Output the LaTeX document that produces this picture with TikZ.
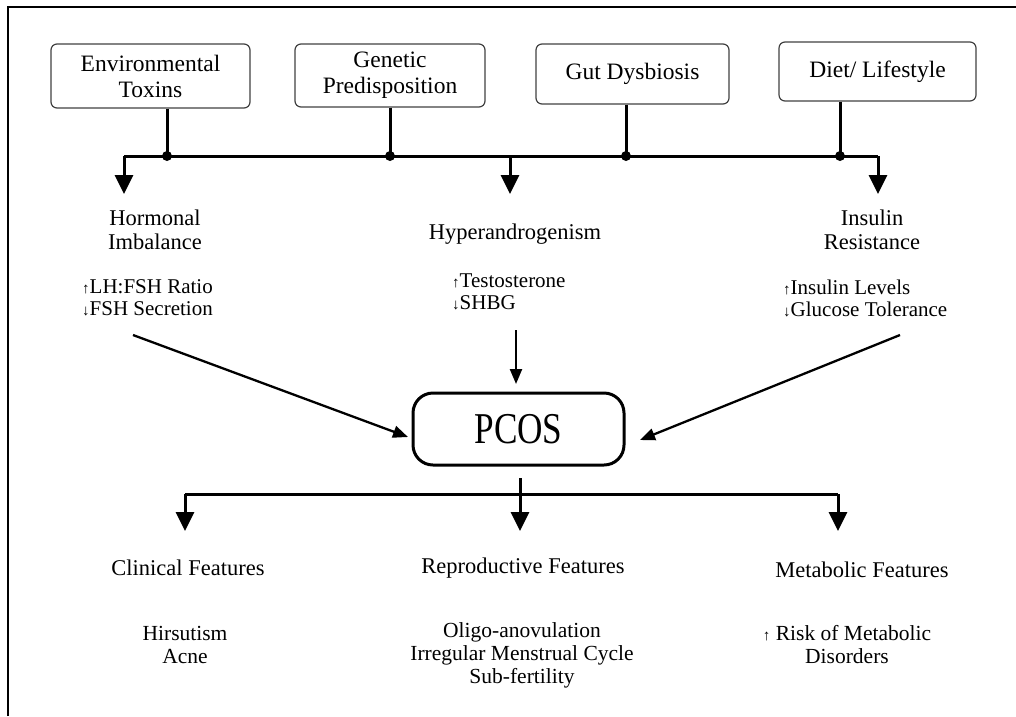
\documentclass[tikz,border=0pt]{standalone}
\usepackage{fontspec}
\setmainfont{Liberation Serif}
\usetikzlibrary{arrows.meta}
\begin{document}
\begin{tikzpicture}[x=1pt,y=-1pt,
  cause/.style={draw=black!75, line width=1.2pt, rounded corners=6pt, align=center, inner sep=0pt,
    font=\fontsize{23.5}{26}\selectfont},
  lbl/.style={align=center, inner sep=0pt, font=\fontsize{22.5}{24}\selectfont},
  lst/.style={align=left, inner sep=0pt, font=\fontsize{21}{22}\selectfont},
  blst/.style={align=center, inner sep=0pt, font=\fontsize{21.5}{23}\selectfont},
  wire/.style={line width=3pt},
  bigarrow/.style={line width=3pt, -{Triangle[width=18pt,length=19pt]}},
  thinarrow/.style={line width=2.3pt, -{Triangle[width=12pt,length=15pt]}},
  dot/.style={circle, fill=black, inner sep=0pt, minimum size=10pt}
]
\useasboundingbox (0,0) rectangle (1016,716);
\draw[line width=2pt] (8,716) -- (8,7) -- (1016,7);

% causes
\node[cause, minimum width=199pt, minimum height=64pt] (env) at (150.5,76) {Environmental\\Toxins};
\node[cause, minimum width=190pt, minimum height=63pt] (gen) at (390,75.5) {Genetic\\Predisposition};
\node[cause, minimum width=193pt, minimum height=60pt] (gut) at (632.5,74) {Gut Dysbiosis};
\node[cause, minimum width=197pt, minimum height=59pt] (diet) at (877.5,71.5) {Diet/ Lifestyle};

% junctions on bus
\node[dot] (j1) at (167,156) {};
\node[dot] (j2) at (390,156) {};
\node[dot] (j3) at (626,156) {};
\node[dot] (j4) at (840,156) {};
\coordinate (bl) at (124,156);
\coordinate (bm) at (510,156);
\coordinate (br) at (878,156);
\coordinate (tl) at (124,194);
\coordinate (tm) at (510,194);
\coordinate (tr) at (878,194);

\draw[wire] (env.south -| j1) -- (j1.center);
\draw[wire] (gen.south -| j2) -- (j2.center);
\draw[wire] (gut.south -| j3) -- (j3.center);
\draw[wire] (diet.south -| j4) -- (j4.center);
\draw[wire] (bl) -- (br);
\draw[bigarrow] (bl) -- (tl);
\draw[bigarrow] (bm) -- (tm);
\draw[bigarrow] (br) -- (tr);

% mechanisms
\node[lbl] (horm) at (155,230) {Hormonal\\Imbalance};
\node[lst, anchor=west] (hormL) at (82,298) {{\fontsize{15}{15}\selectfont↑}LH:FSH Ratio\\{\fontsize{15}{15}\selectfont↓}FSH Secretion};
\node[lbl] (hyper) at (515,234) {Hyperandrogenism};
\node[lst, anchor=west] (hyperL) at (452,292) {{\fontsize{15}{15}\selectfont↑}Testosterone\\{\fontsize{15}{15}\selectfont↓}SHBG};
\node[lbl] (ins) at (872,230) {Insulin\\Resistance};
\node[lst, anchor=west] (insL) at (783,298) {{\fontsize{15}{15}\selectfont↑}Insulin Levels\\{\fontsize{15}{15}\selectfont↓}Glucose Tolerance};

% PCOS
\node[draw, line width=3pt, rounded corners=20pt, minimum width=211pt, minimum height=72pt,
  font=\fontsize{44}{44}\selectfont] (pcos) at (518.5,429) {\scalebox{0.8}[1]{PCOS}};

\coordinate (a1s) at (133,335);
\coordinate (a1e) at (408,437);
\coordinate (a2s) at (516,330);
\coordinate (a2e) at (516,384);
\coordinate (a3s) at (900,335);
\coordinate (a3e) at (640,440);
\draw[thinarrow] (a1s) -- (a1e);
\draw[thinarrow] (a2s) -- (a2e);
\draw[thinarrow] (a3s) -- (a3e);

% outcomes
\coordinate (p0) at (520,478);
\coordinate (pl) at (185,494);
\coordinate (pm) at (520,494);
\coordinate (pr) at (838,494);
\coordinate (ql) at (185,531);
\coordinate (qm) at (520,531);
\coordinate (qr) at (838,531);
\draw[wire] (pl) -- (pr);
\draw[bigarrow] (pl) -- (ql);
\draw[bigarrow] (p0) -- (qm);
\draw[bigarrow] (pr) -- (qr);

\node[lbl] (clin) at (188,568) {Clinical Features};
\node[lbl] (repro) at (523,568) {Reproductive Features};
\node[lbl] (metab) at (862,570) {Metabolic Features};
\node[blst] (clinL) at (185,645) {Hirsutism\\Acne};
\node[blst] (reproL) at (522,655) {Oligo-anovulation\\Irregular Menstrual Cycle\\Sub-fertility};
\node[blst] (metabL) at (847,645) {{\fontsize{15}{15}\selectfont↑} Risk of Metabolic\\Disorders};
\end{tikzpicture}
\end{document}
